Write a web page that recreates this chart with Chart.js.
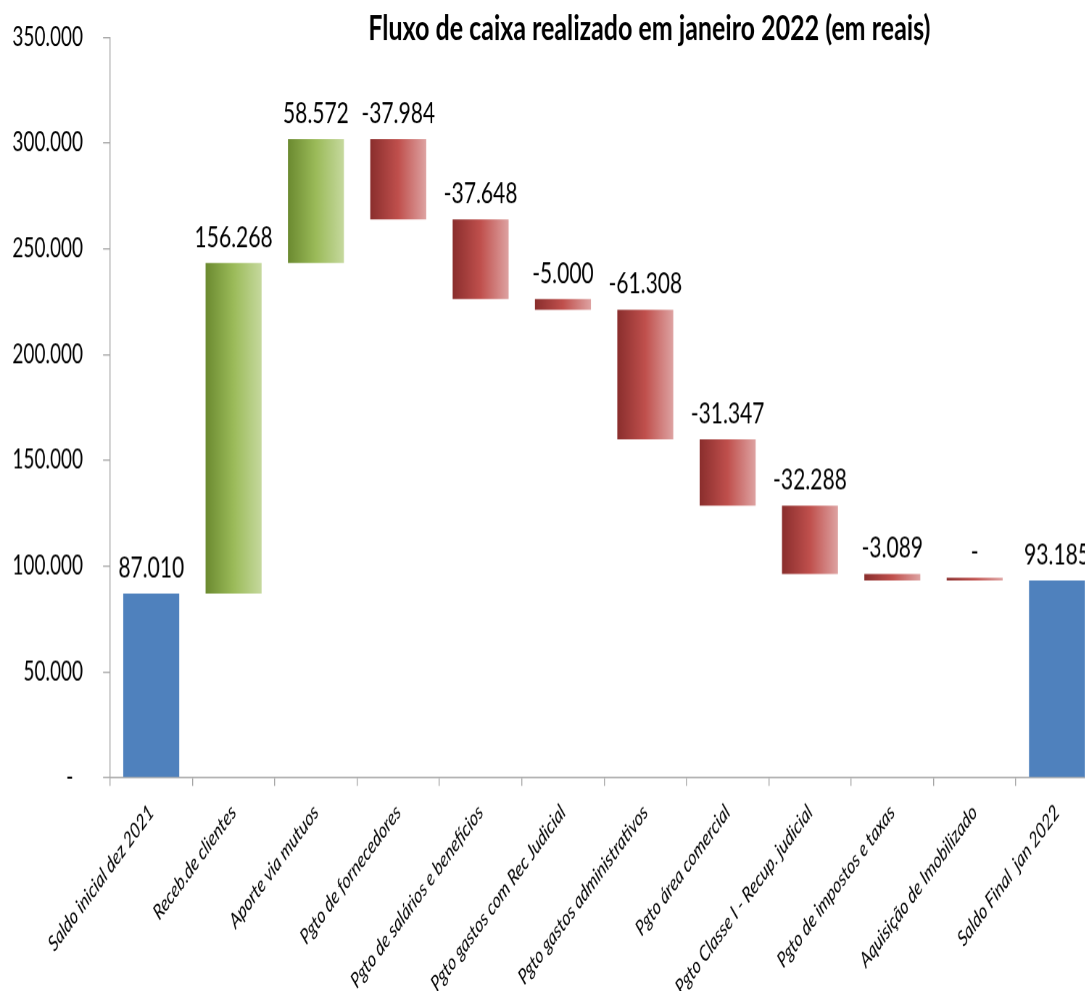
<!DOCTYPE html>
<html>
<head>
<meta charset="utf-8">
<script src="https://cdn.jsdelivr.net/npm/chart.js@4/dist/chart.umd.min.js"></script>
<style>
  html { overflow: hidden; }
  body { margin: 0; padding: 0; background: #fff; width: 1085px; height: 991px; }
  /* o gráfico original está esticado na vertical */
  #wrap { transform: scaleY(1.38); transform-origin: 0 0; width: 1110px; height: 718px; }
</style>
</head>
<body>
<div id="wrap"><canvas id="grafico" width="1110" height="718"></canvas></div>
<script>
const categorias = [
  'Saldo inicial dez 2021', 'Receb.de clientes', 'Aporte via mutuos', 'Pgto de fornecedores',
  'Pgto de salários e benefícios', 'Pgto gastos com Rec Judicial', 'Pgto gastos administrativos',
  'Pgto área comercial', 'Pgto Classe I - Recup. judicial', 'Pgto de impostos e taxas',
  'Aquisição de Imobilizado', 'Saldo Final  jan 2022'
];
const valores = [87010, 156268, 58572, -37984, -37648, -5000, -61308, -31347, -32288, -3089, 0, 93185];
const tipos = ['total', 'var', 'var', 'var', 'var', 'var', 'var', 'var', 'var', 'var', 'var', 'total'];
const yMin = 0, yMax = 350000, yPasso = 50000;
const titulo = 'Fluxo de caixa realizado em janeiro 2022 (em reais)';

// formata com ponto de milhar, zero vira "-"
function fmt(v) {
  if (v === 0) return '-';
  const s = Math.abs(Math.round(v)).toString().replace(/\B(?=(\d{3})+(?!\d))/g, '.');
  return (v < 0 ? '-' : '') + s;
}

// monta as barras flutuantes da cascata
let acumulado = 0;
const barras = valores.map((v, i) => {
  if (tipos[i] === 'total') { acumulado = v; return [0, v]; }
  const ini = acumulado;
  acumulado += v;
  return [ini, acumulado];
});

function cor(c) {
  const i = c.dataIndex;
  if (tipos[i] === 'total') return '#4f81bd';
  const chart = c.chart;
  if (!chart.chartArea) return valores[i] > 0 ? '#9bbb59' : '#c0504d';
  const xs = chart.scales.x;
  const cx = xs.getPixelForValue(i);
  const meia = xs.width / categorias.length * 0.68 / 2;
  const g = chart.ctx.createLinearGradient(cx - meia, 0, cx + meia, 0);
  if (valores[i] > 0) {
    g.addColorStop(0, '#6b8a30');
    g.addColorStop(0.5, '#9bbb59');
    g.addColorStop(1, '#c6d99e');
  } else {
    g.addColorStop(0, '#8a2e2d');
    g.addColorStop(0.5, '#c0504d');
    g.addColorStop(1, '#dea3a2');
  }
  return g;
}

const rotulos = {
  id: 'rotulos',
  afterDatasetsDraw(chart) {
    const ctx = chart.ctx;
    const meta = chart.getDatasetMeta(0);
    ctx.save();
    ctx.font = '21px Lato';
    ctx.fillStyle = '#000';
    ctx.textAlign = 'center';
    ctx.textBaseline = 'bottom';
    meta.data.forEach((el, i) => {
      const topo = Math.min(el.y, el.base);
      ctx.fillText(fmt(valores[i]), el.x, topo - 8);
    });
    ctx.restore();
  },
  afterDraw(chart) {
    const ctx = chart.ctx;
    ctx.save();
    ctx.font = 'bold 25px Lato';
    ctx.fillStyle = '#000';
    ctx.textAlign = 'center';
    ctx.textBaseline = 'alphabetic';
    ctx.fillText(titulo, 649, 29);
    ctx.restore();
  }
};

Chart.defaults.font.family = 'Lato';
Chart.defaults.color = '#000';

new Chart(document.getElementById('grafico'), {
  type: 'bar',
  data: {
    labels: categorias,
    datasets: [{
      data: barras,
      backgroundColor: cor,
      borderWidth: 0,
      categoryPercentage: 1,
      barPercentage: 0.68,
      minBarLength: 2
    }]
  },
  options: {
    responsive: false,
    animation: false,
    devicePixelRatio: 1.38,
    layout: { padding: { left: 0, right: 12.4, top: 27, bottom: 0 } },
    plugins: { legend: { display: false }, tooltip: { enabled: false } },
    scales: {
      x: {
        grid: { offset: true, drawOnChartArea: false, color: '#a6a6a6', tickLength: 6 },
        border: { color: '#a6a6a6' },
        ticks: {
          autoSkip: false, minRotation: 45, maxRotation: 45, padding: 10,
          font: { size: 15.5, style: 'italic' }
        },
        afterFit(s) { s.height = 155; s.paddingTop = 0; }
      },
      y: {
        min: yMin, max: yMax,
        grid: { drawOnChartArea: false, color: '#a6a6a6', tickLength: 7 },
        border: { color: '#a6a6a6' },
        ticks: {
          stepSize: yPasso, padding: 20,
          font: { size: 19 },
          callback: v => v === 0 ? '-  ' : fmt(v)
        },
        afterFit(s) { s.width = 110; s.paddingTop = 0; s.paddingBottom = 0; }
      }
    }
  },
  plugins: [rotulos]
});
</script>
</body>
</html>
